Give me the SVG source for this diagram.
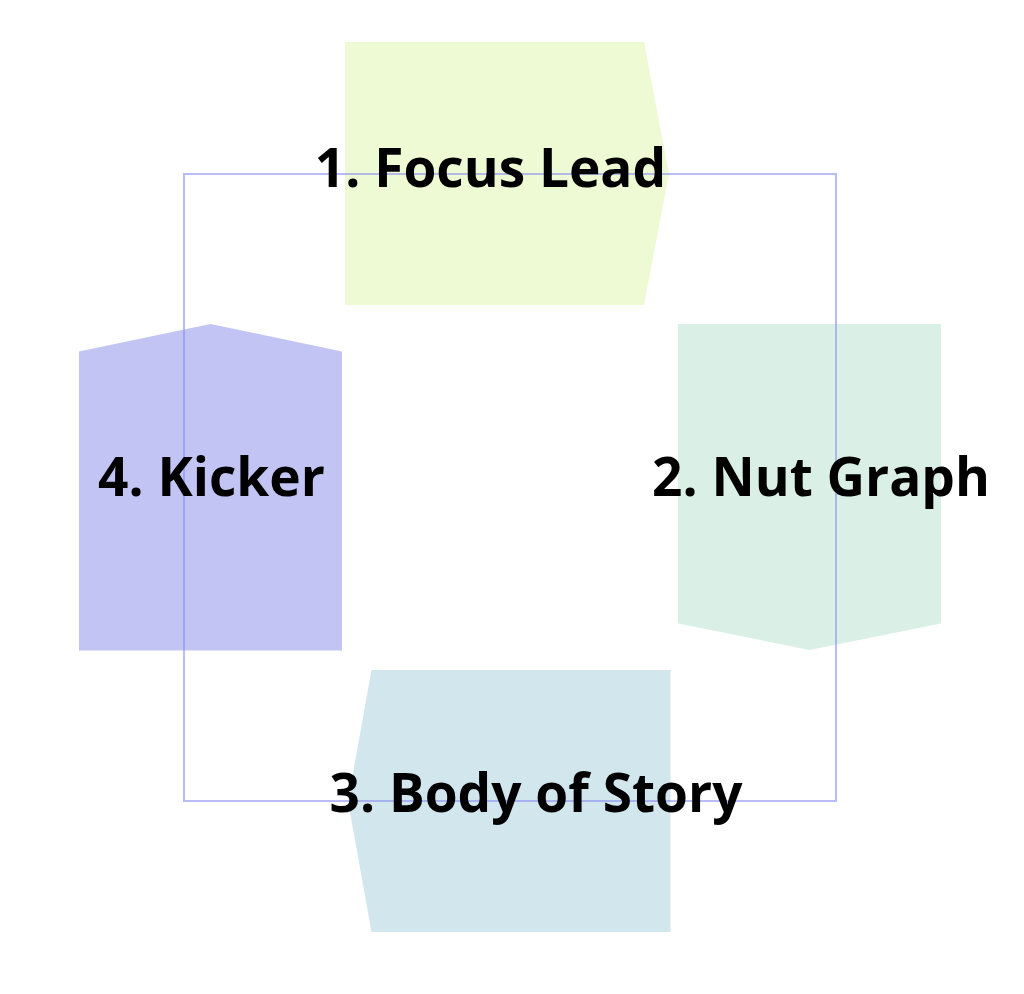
<svg xmlns="http://www.w3.org/2000/svg" width="1024" height="994" viewBox="0 0 1024 994">
<style>
.lbl{font-family:"Open Sans","Noto Sans",sans-serif;font-weight:700;font-size:53.2px;fill:#000;text-anchor:middle}
.conn{fill:none;stroke:#8a8ff0;stroke-opacity:0.6;stroke-width:2}
</style>
<rect width="1024" height="994" fill="#fff"/>
<g id="node1"><polygon points="345,42 644,42 669,173.5 644,305 345,305" fill="#eefad4"/></g>
<g id="node2"><polygon points="678,324 941,324 941,623.5 809.5,650 678,623.5" fill="#daf0e7"/></g>
<g id="node3"><polygon points="371.5,670 670.5,670 670.5,932 371.5,932 348,801" fill="#d2e6ee"/></g>
<g id="node4"><polygon points="79,351.5 210.5,324 342,351.5 342,650.5 79,650.5" fill="#c2c4f4"/></g>
<g id="connectors"><rect class="conn" x="184" y="174" width="652" height="627"/></g>
<g id="labels">
<text class="lbl" x="490.5" y="187">1. Focus Lead</text>
<text class="lbl" x="821" y="496">2. Nut Graph</text>
<text class="lbl" x="536" y="812">3. Body of Story</text>
<text class="lbl" x="211.5" y="496">4. Kicker</text>
</g>
</svg>
